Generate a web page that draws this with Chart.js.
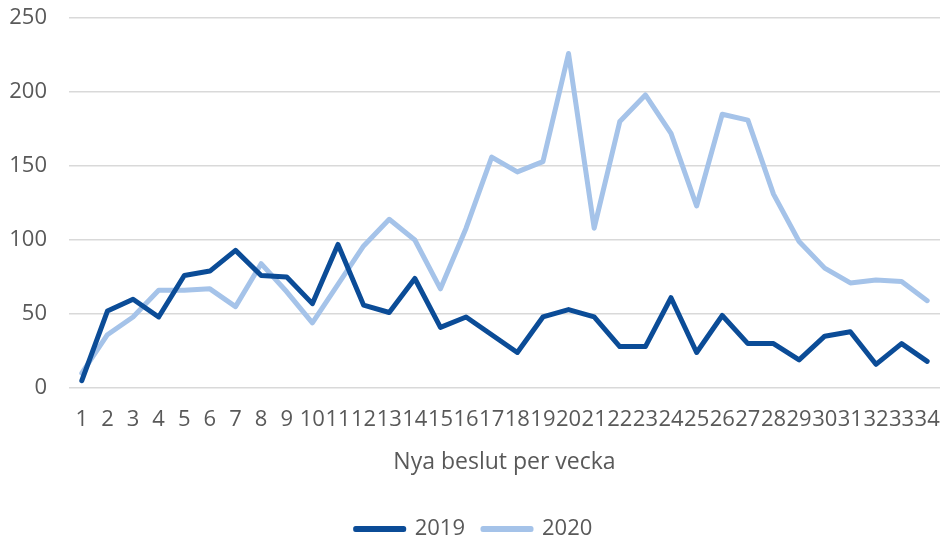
<!DOCTYPE html>
<html>
<head>
<meta charset="utf-8">
<script src="https://cdn.jsdelivr.net/npm/chart.js@4"></script>
<style>
  html, body { margin: 0; padding: 0; background: #fff; }
  #wrap { width: 944px; height: 538px; }
</style>
</head>
<body>
<div id="wrap"><canvas id="chart"></canvas></div>
<script>
const weeks = ["1","2","3","4","5","6","7","8","9","10","11","12","13","14","15","16","17",
  "18","19","20","21","22","23","24","25","26","27","28","29","30","31","32","33","34"];

const values2019 = [5, 52, 60, 48, 76, 79, 93, 76, 75, 57, 97, 56, 51, 74, 41, 48, 36,
  24, 48, 53, 48, 28, 28, 61, 24, 49, 30, 30, 19, 35, 38, 16, 30, 18];

const values2020 = [10, 36, 48, 66, 66, 67, 55, 84, 65, 44, 70, 96, 114, 100, 67, 108, 156,
  146, 153, 226, 108, 180, 198, 172, 123, 185, 181, 131, 99, 81, 71, 73, 72, 59];

const yTicks = [0, 50, 100, 150, 200, 250];

const textColor = "#595959";
const fontFamily = "'Open Sans', sans-serif";

const chartDOM = document.getElementById("chart");

// gör linjeserie
function makeSeries(label, data, color) {
  return {
    label: label,
    data: data,
    borderColor: color,
    backgroundColor: color,
    borderWidth: 5,
    pointRadius: 0,
    tension: 0,
    fill: false,
    borderJoinStyle: "round",
    borderCapStyle: "round"
  };
}

new Chart(chartDOM, {
  type: "line",
  data: {
    labels: weeks,
    datasets: [
      makeSeries("2019", values2019, "#0B4C97"),
      makeSeries("2020", values2020, "#A5C3E9")
    ]
  },
  options: {
    responsive: true,
    maintainAspectRatio: false,
    animation: false,
    layout: { padding: { left: 8, right: 4, top: 18, bottom: -12 } },
    scales: {
      x: {
        offset: true,
        grid: { display: false, drawTicks: false },
        border: { display: false },
        afterFit: axis => {
          axis.height = 112;
          axis.paddingLeft = 0;
          axis.paddingRight = 0;
        },
        ticks: {
          autoSkip: false,
          maxRotation: 0,
          minRotation: 0,
          padding: 19,
          color: textColor,
          font: { family: fontFamily, size: 22 }
        },
        title: {
          display: true,
          text: "Nya beslut per vecka",
          color: textColor,
          font: { family: fontFamily, size: 23 },
          padding: { top: 0, bottom: 24 }
        }
      },
      y: {
        min: 0,
        max: 250,
        afterBuildTicks: axis => { axis.ticks = yTicks.map(v => ({ value: v })); },
        afterFit: axis => {
          axis.width = 61;
          axis.paddingTop = 0;
          axis.paddingBottom = 0;
        },
        grid: { color: "#D9D9D9", lineWidth: 1.5, drawTicks: false },
        border: { display: false },
        ticks: {
          padding: 22,
          color: textColor,
          font: { family: fontFamily, size: 22 }
        }
      }
    },
    plugins: {
      legend: {
        position: "bottom",
        labels: {
          boxWidth: 48,
          boxHeight: 1,
          padding: 18,
          color: textColor,
          font: { family: fontFamily, size: 22 }
        }
      },
      tooltip: { enabled: false }
    }
  }
});
</script>
</body>
</html>
